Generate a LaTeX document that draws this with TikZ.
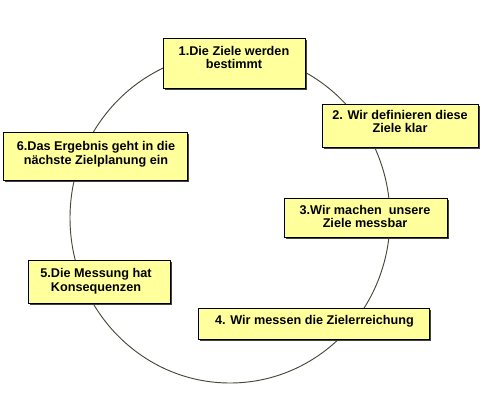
\documentclass[tikz,border=0pt]{standalone}
\usepackage{fontspec}
\setmainfont{Liberation Sans}
\usetikzlibrary{shadows}
\definecolor{boxyellow}{RGB}{255,255,156}
\definecolor{ringcol}{RGB}{70,72,55}
\begin{document}
\begin{tikzpicture}[x=0.75pt,y=-0.75pt,
  box/.style={draw=black, line width=0.6pt, fill=boxyellow, inner sep=0pt,
    drop shadow={shadow xshift=1.3pt, shadow yshift=-1.3pt, fill=black!75, opacity=1}},
  txt/.style={font=\bfseries\fontsize{9.5}{10.2}\selectfont, align=center, inner sep=0pt},
  ring/.style={draw=ringcol, line width=0.7pt}]
\useasboundingbox (0,0) rectangle (488,418);
\coordinate (c) at (230,218);
\draw[ring] (c) ellipse [x radius=160, y radius=165];
% boxes
\node[box, minimum width=142*0.75pt, minimum height=50*0.75pt] (b1) at (234,63) {};
\node[txt] (t1) at (234,57.5) {1.Die Ziele werden\\bestimmt};
\node[box, minimum width=156*0.75pt, minimum height=43*0.75pt] (b2) at (400,125.5) {};
\node[txt] (t2) at (400,121.5) {2. Wir definieren diese\\Ziele klar};
\node[box, minimum width=163*0.75pt, minimum height=39*0.75pt] (b3) at (365.5,217.5) {};
\node[txt] (t3) at (365,216.5) {3.Wir machen\ \ unsere\\Ziele messbar};
\node[box, minimum width=231*0.75pt, minimum height=31*0.75pt] (b4) at (313.5,323.5) {};
\node[txt] (t4) at (314.5,321.5) {4. Wir messen die Zielerreichung};
\node[box, minimum width=142*0.75pt, minimum height=43*0.75pt] (b5) at (99,281.5) {};
\node[txt] (t5) at (96,281.5) {5.Die Messung hat\\Konsequenzen};
\node[box, minimum width=184*0.75pt, minimum height=48*0.75pt] (b6) at (95,156) {};
\node[txt] (t6) at (96,154.5) {6.Das Ergebnis geht in die\\nächste Zielplanung ein};
\end{tikzpicture}
\end{document}
